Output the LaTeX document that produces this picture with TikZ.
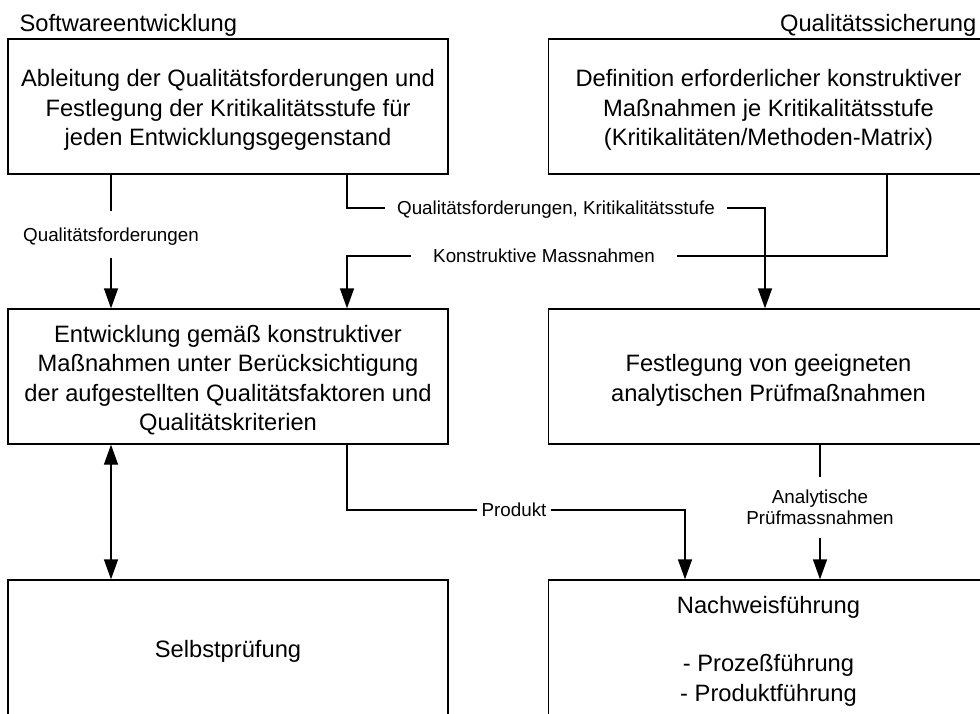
\documentclass[tikz,border=0pt]{standalone}
\usepackage{fontspec}
\setmainfont{Liberation Sans}
\usetikzlibrary{arrows.meta}

\newcommand{\topst}{\rule{0pt}{25.5pt}}
\newcommand{\botst}{\rule[-6pt]{0pt}{6pt}}

\tikzset{
  box/.style={draw, minimum width=440pt, minimum height=135pt, inner sep=0pt,
    align=center, font=\fontsize{23.7}{29.5}\selectfont},
  lbl/.style={inner ysep=0pt, font=\fontsize{18.8}{21.5}\selectfont,
    text height=13.5pt, text depth=0pt},
}

\begin{document}
\begin{tikzpicture}[x=1pt, y=-1pt, line width=1.3pt,
    >={Triangle[length=20pt,width=14pt]}]
  \useasboundingbox (0,0) rectangle (980,713);
  \clip (0,0) rectangle (980,713);
  % Ueberschriften
  \node[anchor=base west, font=\fontsize{23.7}{29.5}\selectfont, inner sep=0pt]
    (swe) at (19,31.5) {Softwareentwicklung};
  \node[anchor=base east, font=\fontsize{23.7}{29.5}\selectfont, inner sep=0pt]
    (qs) at (977,31.5) {Qualitätssicherung};
  % Kaesten
  \node[box] (abl) at (228,106.5)
    {\topst Ableitung der Qualitätsforderungen und\\Festlegung der Kritikalitätsstufe für\\jeden Entwicklungsgegenstand\botst};
  \node[box] (defi) at (768.5,106.5)
    {\topst Definition erforderlicher konstruktiver\\Maßnahmen je Kritikalitätsstufe\\(Kritikalitäten/Methoden-Matrix)\botst};
  \node[box] (entw) at (228,376.5)
    {\topst Entwicklung gemäß konstruktiver\\Maßnahmen unter Berücksichtigung\\der aufgestellten Qualitätsfaktoren und\\Qualitätskriterien\botst};
  \node[box] (fest) at (768.5,376.5)
    {\topst Festlegung von geeigneten\\analytischen Prüfmaßnahmen\botst};
  \node[box] (selbst) at (228,647.5) {\topst Selbstprüfung\botst};
  \node[box] (nachw) at (768.5,647.5)
    {\topst Nachweisführung\\[28.5pt]- Prozeßführung\\ - Produktführung\botst};
  % Beschriftungen
  \node[lbl, minimum height=45pt] (lq) at (111,234.5) {Qualitätsforderungen};
  \node[lbl, inner xsep=11.5pt] (lqk) at (556,208) {Qualitätsforderungen, Kritikalitätsstufe};
  \node[lbl, inner xsep=21.5pt] (lkm) at (544,256) {Konstruktive Massnahmen};
  \node[lbl, inner xsep=3.5pt] (lpr) at (514,510) {Produkt};
  \node[inner sep=0pt, minimum height=59pt, align=center,
    font=\fontsize{18.8}{21.5}\selectfont] (lap) at (820,507.5) {Analytische\\Prüfmassnahmen};
  % Verbindungen
  \draw (abl.south -| lq) -- (lq.north);
  \draw[->] (lq.south) -- (entw.north -| lq);
  \draw ([xshift=119pt]abl.south) |- (lqk.west);
  \draw[->] (lqk.east) -| ([xshift=-3.5pt]fest.north);
  \draw ([xshift=118.5pt]defi.south) |- (lkm.east);
  \draw[->] (lkm.west) -| ([xshift=119pt]entw.north);
  \draw ([xshift=119pt]entw.south) |- (lpr.west);
  \draw[->] (lpr.east) -| ([xshift=-83.5pt]nachw.north);
  \draw (fest.south -| lap) -- (lap.north);
  \draw[->] (lap.south) -- (nachw.north -| lap);
  \draw[<->] ([xshift=-117pt]entw.south) -- ([xshift=-117pt]selbst.north);
\end{tikzpicture}
\end{document}
